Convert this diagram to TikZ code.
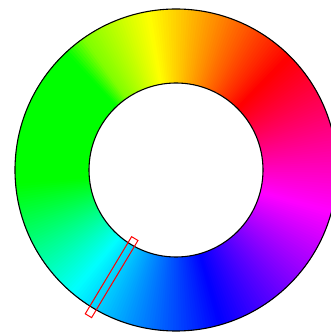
\documentclass[tikz,border=0pt]{standalone}
\usepackage{xcolor}
\begin{document}
\begin{tikzpicture}[x=1pt,y=1pt,
  ringline/.style={draw=black,line width=1.1pt},
  markbox/.style={draw=red,line width=1pt}]
\useasboundingbox (0,0) rectangle (331,332);
\clip (0,0) rectangle (331,332);
\coordinate (C) at (176,162);
\def\Ro{161}
\def\Ri{87}
\begin{scope}[shift={(C)}]
\foreach \a/\b/\h/\k in {45/100/0/60, 100/125/60/90, 125/133/90/120, 133/185/120/120, 185/230/120/180, 230/286/180/240, 286/345/240/300, 345/405/300/360}{
  \pgfmathtruncatemacro\n{\b-\a-1}
  \foreach \i in {0,...,\n}{
    \pgfmathsetmacro\hue{\h+(\k-\h)*(\i+0.5)/(\b-\a)}
    \pgfmathsetmacro\ang{\a+\i}
    \pgfmathsetmacro\angb{\a+\i+2}
    \definecolor{tmpc}{Hsb}{\hue,1,1}
    \fill[tmpc] (\ang:\Ro) arc (\ang:\angb:\Ro) -- (\angb:\Ri-1) arc (\angb:\ang:\Ri-1) -- cycle;
  }
}
\end{scope}
\fill[white] (C) circle (\Ri);
\node[circle,ringline,minimum size=322pt,inner sep=0pt] (outer) at (C) {};
\node[circle,ringline,minimum size=174pt,inner sep=0pt] (inner) at (C) {};
\begin{scope}[shift={(C)},rotate=239]
\draw[markbox] (80,-3.7) rectangle (170,3.7);
\end{scope}
\end{tikzpicture}
\end{document}
